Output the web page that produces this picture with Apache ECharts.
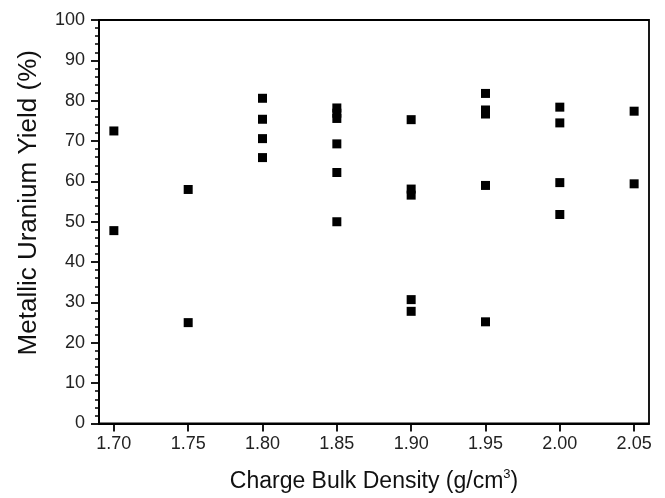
<!DOCTYPE html>
<html>
<head>
<meta charset="utf-8">
<script src="https://cdn.jsdelivr.net/npm/echarts@6/dist/echarts.min.js"></script>
<style>
  html, body { margin: 0; padding: 0; background: #fff; }
  #chart { width: 665px; height: 498px; }
</style>
</head>
<body>
<div id="chart"></div>
<script>
// density values (g/cm3) and yields (%)
const density = [
  1.70, 1.70,
  1.75, 1.75,
  1.80, 1.80, 1.80, 1.80,
  1.85, 1.85, 1.85, 1.85, 1.85, 1.85,
  1.90, 1.90, 1.90, 1.90, 1.90,
  1.95, 1.95, 1.95, 1.95, 1.95,
  2.00, 2.00, 2.00, 2.00,
  2.05, 2.05
];
const yieldPct = [
  72.5, 47.8,
  58.0, 25.0,
  80.6, 75.4, 70.6, 65.9,
  78.2, 76.9, 75.6, 69.3, 62.2, 50.0,
  75.3, 58.1, 56.6, 30.7, 27.8,
  81.8, 77.7, 76.7, 59.0, 25.2,
  78.4, 74.5, 59.7, 51.8,
  77.4, 59.4
];
const xTicks = [1.70, 1.75, 1.80, 1.85, 1.90, 1.95, 2.00, 2.05];

const points = density.map((d, i) => [d, yieldPct[i]]);

const font = 'Liberation Sans, Arial, sans-serif';
const chart = echarts.init(document.getElementById('chart'));

chart.setOption({
  animation: false,
  backgroundColor: '#fff',
  grid: {
    left: 99, right: 16, top: 20, bottom: 73,
    show: true, borderColor: '#000', borderWidth: 1.8,
    containLabel: false
  },
  xAxis: {
    type: 'value',
    min: 1.69,
    max: 2.06,
    name: '{a|Charge Bulk Density (g/cm}{s|3}{a|)}',
    nameLocation: 'middle',
    nameGap: 44,
    nameTextStyle: {
      rich: {
        a: { fontFamily: font, fontSize: 23, color: '#111' },
        s: { fontFamily: font, fontSize: 13, color: '#111', verticalAlign: 'top', padding: [0, 0, 15, 0] }
      }
    },
    axisLine: { show: true, onZero: false, lineStyle: { color: '#000', width: 2 } },
    axisTick: { show: true, length: 8, lineStyle: { color: '#000', width: 1.8 }, customValues: xTicks },
    axisLabel: {
      customValues: xTicks,
      formatter: v => v.toFixed(2),
      fontFamily: font, fontSize: 18, color: '#222', margin: 12
    },
    splitLine: { show: false }
  },
  yAxis: {
    type: 'value',
    min: 0,
    max: 100,
    interval: 10,
    name: 'Metallic Uranium Yield (%)',
    nameLocation: 'middle',
    nameGap: 57,
    nameTextStyle: { fontFamily: font, fontSize: 26, color: '#111', padding: [0, 0, 0, 38] },
    axisLine: { show: true, lineStyle: { color: '#000', width: 2 } },
    axisTick: { show: true, length: 8, lineStyle: { color: '#000', width: 1.8 } },
    minorTick: { show: true, splitNumber: 5, length: 4, lineStyle: { color: '#000', width: 1.5 } },
    axisLabel: { fontFamily: font, fontSize: 18, color: '#222', margin: 14 },
    splitLine: { show: false }
  },
  series: [{
    type: 'scatter',
    symbol: 'rect',
    symbolSize: 9,
    itemStyle: { color: '#000', opacity: 1 },
    data: points
  }]
});
</script>
</body>
</html>
